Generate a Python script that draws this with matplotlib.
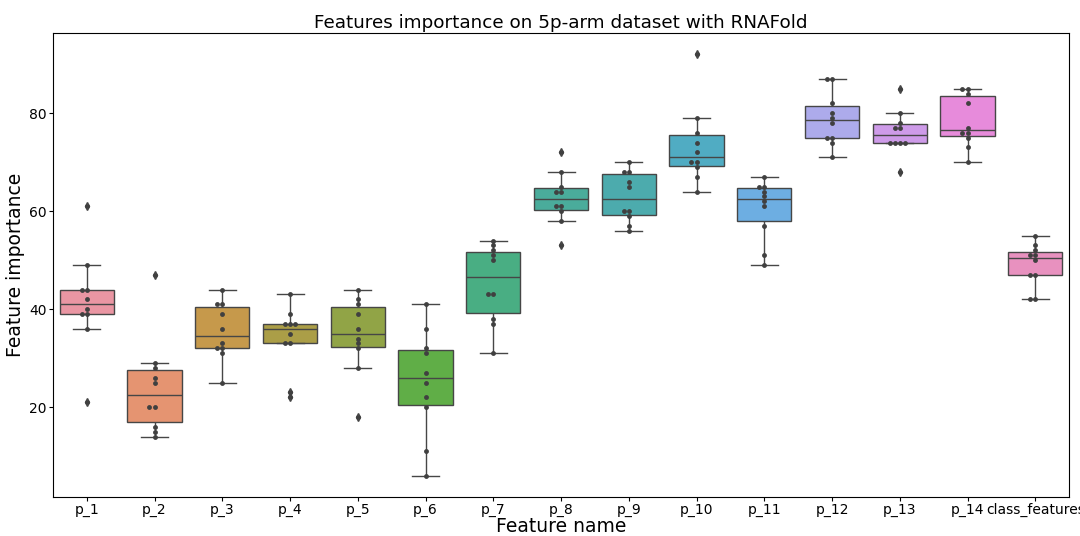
import matplotlib
matplotlib.use("Agg")
import matplotlib.pyplot as plt
import seaborn as sns
import pandas as pd

features = ["p_1", "p_2", "p_3", "p_4", "p_5", "p_6", "p_7", "p_8",
            "p_9", "p_10", "p_11", "p_12", "p_13", "p_14", "class_features"]

# importance per fold (10 folds)
p_1 = [61, 49, 44, 44, 42, 40, 39, 39, 36, 21]
p_2 = [47, 29, 28, 26, 25, 20, 20, 16, 15, 14]
p_3 = [44, 41, 41, 39, 36, 33, 32, 32, 31, 25]
p_4 = [43, 39, 37, 37, 37, 35, 33, 33, 23, 22]
p_5 = [44, 42, 41, 39, 36, 34, 33, 32, 28, 18]
p_6 = [41, 36, 32, 31, 27, 25, 22, 20, 11, 6]
p_7 = [54, 53, 52, 51, 50, 43, 43, 38, 37, 31]
p_8 = [72, 68, 65, 64, 64, 61, 61, 60, 58, 53]
p_9 = [70, 68, 68, 66, 65, 60, 60, 59, 57, 56]
p_10 = [92, 79, 76, 74, 72, 70, 70, 69, 67, 64]
p_11 = [67, 65, 65, 64, 63, 62, 61, 57, 51, 49]
p_12 = [87, 87, 82, 80, 79, 78, 75, 75, 74, 71]
p_13 = [85, 80, 78, 77, 77, 74, 74, 74, 74, 68]
p_14 = [85, 85, 84, 82, 77, 76, 76, 75, 73, 70]
class_features = [55, 53, 52, 51, 51, 50, 47, 47, 42, 42]

values = [p_1, p_2, p_3, p_4, p_5, p_6, p_7, p_8, p_9, p_10,
          p_11, p_12, p_13, p_14, class_features]

rows = []
for name, vals in zip(features, values):
    for v in vals:
        rows.append((name, v))
df = pd.DataFrame(rows, columns=["feature", "importance"])

fig, ax = plt.subplots(figsize=(10.8, 5.36), dpi=100)
fig.subplots_adjust(left=0.049, right=0.99, bottom=0.073, top=0.938)

pal = sns.husl_palette(len(features), l=.7)
sns.boxplot(data=df, x="feature", y="importance", hue="feature", order=features,
            hue_order=features, palette=pal, saturation=0.75, legend=False,
            flierprops=dict(marker="d", markersize=4), ax=ax)
sns.swarmplot(data=df, x="feature", y="importance", order=features,
              color=".25", size=3.5, ax=ax)

ax.set_title("Features importance on 5p-arm dataset with RNAFold", fontsize=13.2, pad=4)
ax.set_xlabel("Feature name", fontsize=13.5, labelpad=0)
ax.set_ylabel("Feature importance", fontsize=13.5, labelpad=3)
ax.tick_params(labelsize=10, length=3, pad=1.5)
ax.set_yticks([20, 40, 60, 80])

fig.savefig("out.png", dpi=100)
